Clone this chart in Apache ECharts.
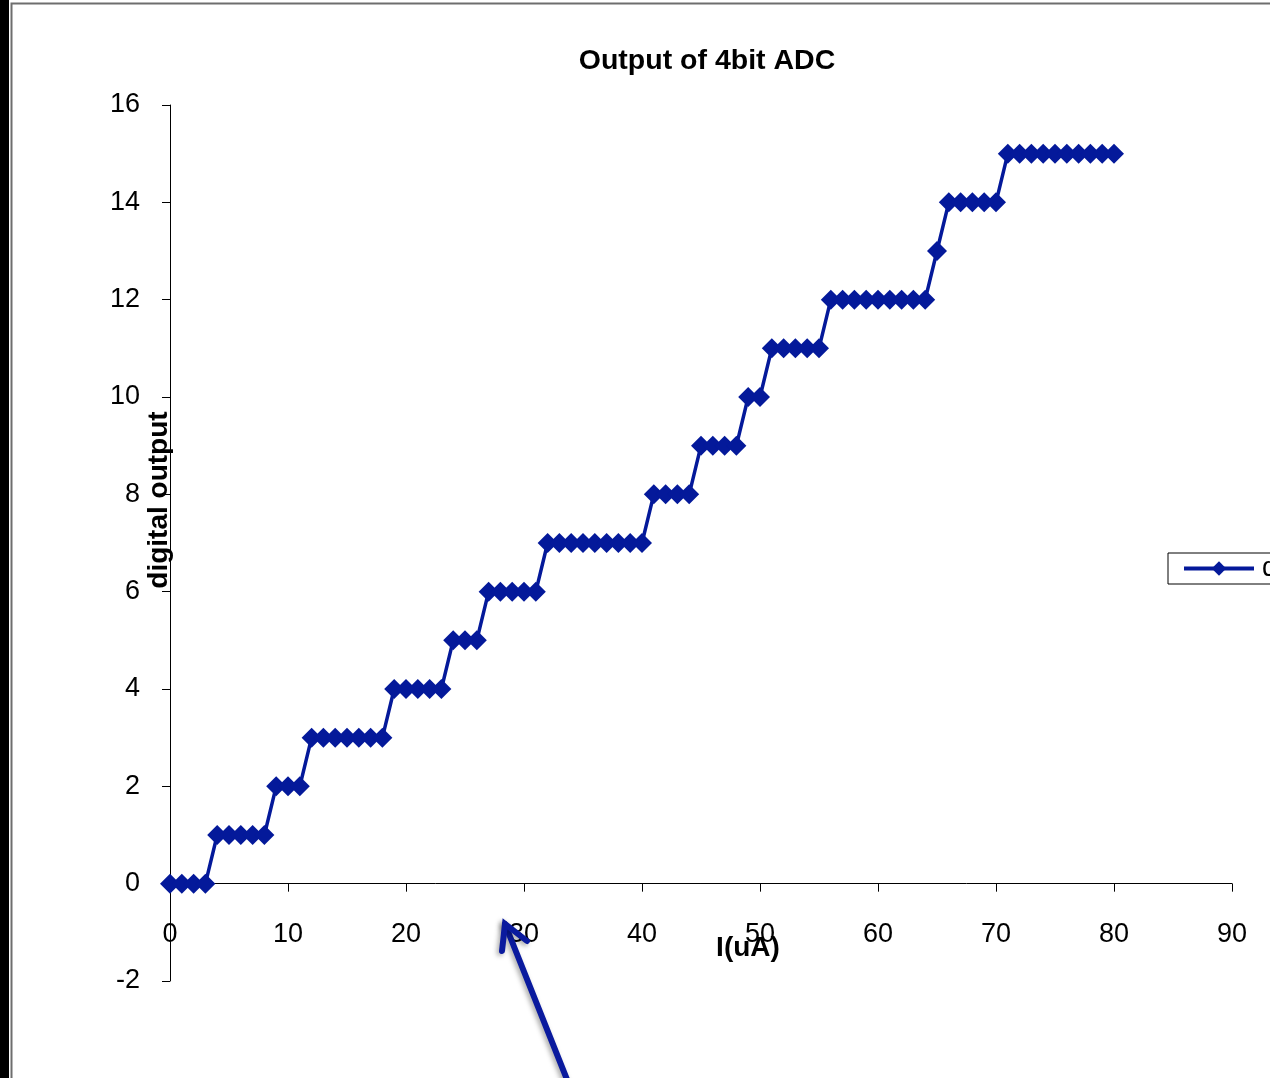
<!DOCTYPE html>
<html>
<head>
<meta charset="utf-8">
<style>
  html, body { margin: 0; padding: 0; background: #ffffff; }
  #chart { width: 1270px; height: 1078px; }
</style>
<script src="https://cdn.jsdelivr.net/npm/echarts@6/dist/echarts.min.js"></script>
</head>
<body>
<div id="chart"></div>
<script>
// Input current (uA) and the resulting 4-bit ADC code
const currents = [
  0, 1, 2, 3, 4, 5, 6, 7, 8, 9,
  10, 11, 12, 13, 14, 15, 16, 17, 18, 19,
  20, 21, 22, 23, 24, 25, 26, 27, 28, 29,
  30, 31, 32, 33, 34, 35, 36, 37, 38, 39,
  40, 41, 42, 43, 44, 45, 46, 47, 48, 49,
  50, 51, 52, 53, 54, 55, 56, 57, 58, 59,
  60, 61, 62, 63, 64, 65, 66, 67, 68, 69,
  70, 71, 72, 73, 74, 75, 76, 77, 78, 79,
  80
];
const codes = [
  0, 0, 0, 0, 1, 1, 1, 1, 1, 2,
  2, 2, 3, 3, 3, 3, 3, 3, 3, 4,
  4, 4, 4, 4, 5, 5, 5, 6, 6, 6,
  6, 6, 7, 7, 7, 7, 7, 7, 7, 7,
  7, 8, 8, 8, 8, 9, 9, 9, 9, 10,
  10, 11, 11, 11, 11, 11, 12, 12, 12, 12,
  12, 12, 12, 12, 12, 13, 14, 14, 14, 14,
  14, 15, 15, 15, 15, 15, 15, 15, 15, 15,
  15
];
const seriesName = 'digital output';
const xTicks = { min: 0, max: 90, interval: 10 };
const yTicks = { min: -2, max: 16, interval: 2 };

const navy = '#04199a';
const fontFamily = '"Liberation Sans", Arial, Helvetica, sans-serif';

const gridTop = 105, gridBottom = 97, chartHeight = 1078;
// the x axis sits at y = 0, so lift it from the bottom of the plot area by the -2..0 band
const plotHeight = chartHeight - gridTop - gridBottom;
const xAxisLift = plotHeight * (0 - yTicks.min) / (yTicks.max - yTicks.min);

const chart = echarts.init(document.getElementById('chart'), null, { renderer: 'canvas' });

const points = currents.map((c, i) => [c, codes[i]]);

chart.setOption({
  backgroundColor: '#ffffff',
  animation: false,
  title: {
    text: 'Output of 4bit ADC',
    left: 702,
    textAlign: 'center',
    top: 42,
    textStyle: { fontFamily, fontSize: 28.5, fontWeight: 'bold', color: '#000' }
  },
  legend: {
    left: 1168,
    top: 553,
    orient: 'vertical',
    padding: [2, 14, 2, 14],
    itemWidth: 70,
    itemHeight: 18,
    itemGap: 0,
    borderColor: '#000',
    borderWidth: 1,
    borderRadius: 0,
    backgroundColor: '#fff',
    lineStyle: { width: 4, color: navy },
    itemStyle: { color: navy },
    textStyle: { fontFamily, fontSize: 27, color: '#000', padding: [0, 0, 0, 3] },
    data: [seriesName]
  },
  grid: { left: 170, right: 38, top: gridTop, bottom: gridBottom, containLabel: false },
  xAxis: {
    type: 'value',
    min: xTicks.min,
    max: xTicks.max,
    interval: xTicks.interval,
    offset: -xAxisLift,
    axisLine: { onZero: false, lineStyle: { color: '#000', width: 1 } },
    axisTick: { show: true, inside: false, length: 8, lineStyle: { color: '#000' } },
    axisLabel: { margin: 37, fontFamily, fontSize: 27, color: '#000' },
    splitLine: { show: false }
  },
  yAxis: {
    type: 'value',
    min: yTicks.min,
    max: yTicks.max,
    interval: yTicks.interval,
    axisLine: { show: true, onZero: false, lineStyle: { color: '#000', width: 1 } },
    axisTick: { show: true, inside: false, length: 8, lineStyle: { color: '#000' } },
    axisLabel: { margin: 30, fontFamily, fontSize: 27, color: '#000', padding: [4, 0, 0, 0] },
    splitLine: { show: false }
  },
  series: [{
    name: seriesName,
    type: 'line',
    data: points,
    symbol: 'diamond',
    symbolSize: [20, 20],
    showAllSymbol: true,
    lineStyle: { color: navy, width: 3.5 },
    itemStyle: { color: navy, borderWidth: 0 },
    z: 3
  }],
  graphic: [
    // window frame
    { type: 'rect', left: 0, top: 0, shape: { width: 9, height: 1078 }, style: { fill: '#000' }, z: 100 },
    { type: 'polyline', shape: { points: [[11.5, 1078], [11.5, 3.5], [1270, 3.5]] },
      style: { stroke: '#6e6e6e', lineWidth: 2, fill: null }, z: 100 },
    // axis titles
    { type: 'text', x: 159, y: 500, rotation: Math.PI / 2,
      style: { text: 'digital output', fontFamily, fontSize: 28, fontWeight: 'bold', fill: '#000',
               align: 'center', verticalAlign: 'middle' }, z: 50 },
    { type: 'text', x: 748, y: 948,
      style: { text: 'I(uA)', fontFamily, fontSize: 28, fontWeight: 'bold', fill: '#000',
               align: 'center', verticalAlign: 'middle' }, z: 50 },
    // pointer arrow
    { type: 'polyline', shape: { points: [[568, 1082], [505, 924]] },
      style: { stroke: '#0a1a9e', lineWidth: 6, lineCap: 'round', fill: null,
               shadowBlur: 5, shadowColor: 'rgba(0,0,0,0.35)', shadowOffsetX: -2, shadowOffsetY: 2 }, z: 60 },
    { type: 'polyline', shape: { points: [[502, 951], [505, 924], [527, 941]] },
      style: { stroke: '#0a1a9e', lineWidth: 6, lineCap: 'round', lineJoin: 'miter', fill: null,
               shadowBlur: 5, shadowColor: 'rgba(0,0,0,0.35)', shadowOffsetX: -2, shadowOffsetY: 2 }, z: 60 }
  ]
});
</script>
</body>
</html>
